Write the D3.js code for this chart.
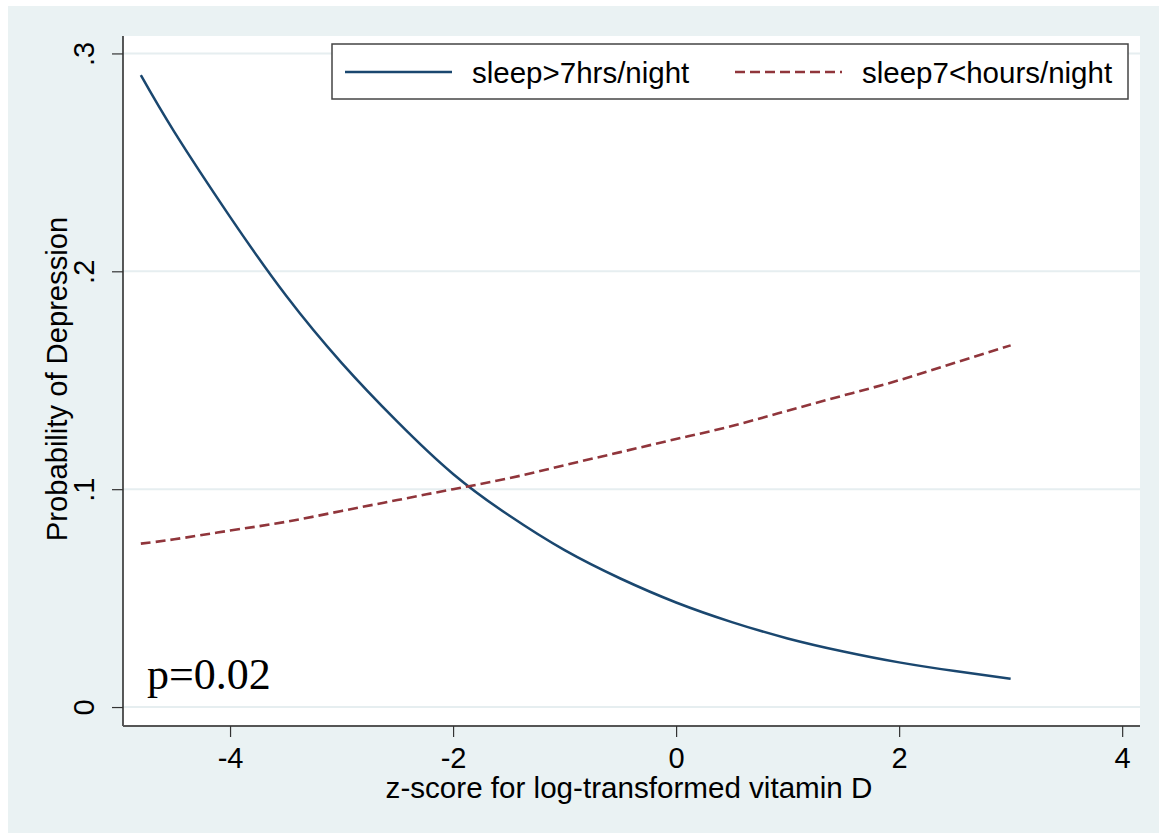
<!DOCTYPE html>
<html>
<head>
<meta charset="utf-8">
<script src="https://cdn.jsdelivr.net/npm/d3@7"></script>
<style>
  body { margin: 0; background: #fff; }
  svg { display: block; }
</style>
</head>
<body>
<div id="wrapper"></div>
<script>
// z-score values where the fitted curves were read
const zScores = [-4.8, -4.5, -4, -3.5, -3, -2.5, -2, -1.5, -1, -0.5, 0, 0.5, 1, 1.5, 2, 2.5, 3]
// sleep>7hrs/night (solid)
const sleepMore = [0.290, 0.264, 0.225, 0.189, 0.158, 0.131, 0.107, 0.088, 0.072, 0.059, 0.048, 0.039, 0.0315, 0.0255, 0.0205, 0.0165, 0.013]
// sleep7<hours/night (dashed)
const sleepLess = [0.075, 0.077, 0.081, 0.085, 0.090, 0.095, 0.100, 0.105, 0.111, 0.117, 0.123, 0.129, 0.136, 0.143, 0.150, 0.158, 0.166]

const xTicks = [-4, -2, 0, 2, 4]
const yTicks = [0, 0.1, 0.2, 0.3]
const yTickLabels = ['0', '.1', '.2', '.3']
const seriesNames = ['sleep>7hrs/night', 'sleep7<hours/night']

const width = 1159
const height = 833
const plot = { left: 123, right: 1140, top: 36, bottom: 726 }

const svg = d3.select('#wrapper').append('svg')
    .attr('width', width)
    .attr('height', height)

// outer graph region
svg.append('rect')
    .attr('x', 8).attr('y', 6)
    .attr('width', width - 8).attr('height', height - 6)
    .attr('fill', '#eaf2f3')

// plot region
svg.append('rect')
    .attr('x', plot.left).attr('y', plot.top)
    .attr('width', plot.right - plot.left).attr('height', plot.bottom - plot.top)
    .attr('fill', '#ffffff')

const xScale = d3.scaleLinear()
    .domain([-4.96, 4.16])
    .range([plot.left, plot.right])

const yScale = d3.scaleLinear()
    .domain([-0.0087, 0.3080])
    .range([plot.bottom, plot.top])

// gridlines
svg.append('g')
    .selectAll('line')
    .data(yTicks)
    .join('line')
    .attr('x1', plot.left).attr('x2', plot.right)
    .attr('y1', d => yScale(d)).attr('y2', d => yScale(d))
    .attr('stroke', '#e6eef0')
    .attr('stroke-width', 2)

const font = '"Liberation Sans", Arial, sans-serif'

// y axis
const yAxis = svg.append('g')
    .attr('transform', `translate(${plot.left},0)`)
    .call(d3.axisLeft(yScale).tickValues(yTicks).tickSize(11).tickFormat((d, i) => yTickLabels[i]))
yAxis.select('.domain')
    .attr('d', `M0,${plot.top}V${plot.bottom}`)
    .attr('stroke', '#222').attr('stroke-width', 1.5)
yAxis.selectAll('.tick line').attr('stroke', '#333').attr('stroke-width', 1.2)
yAxis.selectAll('.tick text')
    .attr('x', null).attr('dy', null)
    .attr('transform', 'translate(-29,0) rotate(-90)')
    .attr('text-anchor', 'middle')
    .style('font-family', font)
    .style('font-size', '29px')
    .attr('fill', '#000')

// x axis
const xAxis = svg.append('g')
    .attr('transform', `translate(0,${plot.bottom})`)
    .call(d3.axisBottom(xScale).tickValues(xTicks).tickSize(11).tickFormat(d3.format('d')))
xAxis.select('.domain')
    .attr('d', `M${plot.left},0H${plot.right}`)
    .attr('stroke', '#555').attr('stroke-width', 2)
xAxis.selectAll('.tick line').attr('stroke', '#333').attr('stroke-width', 1.2)
xAxis.selectAll('.tick text')
    .attr('y', 42).attr('dy', null)
    .style('font-family', font)
    .style('font-size', '29px')
    .attr('fill', '#000')
    .text(d => d < 0 ? '-' + Math.abs(d) : d)

// axis titles
svg.append('text')
    .attr('x', 629)
    .attr('y', 798)
    .attr('text-anchor', 'middle')
    .style('font-family', font)
    .style('font-size', '29.6px')
    .text('z-score for log-transformed vitamin D')

svg.append('text')
    .attr('transform', 'translate(67,379) rotate(-90)')
    .attr('text-anchor', 'middle')
    .style('font-family', font)
    .style('font-size', '29.2px')
    .text('Probability of Depression')

// lines
const lineGen = (values) => d3.line()
    .x((d, i) => xScale(zScores[i]))
    .y(d => yScale(d))
    .curve(d3.curveNatural)(values)

svg.append('path')
    .attr('d', lineGen(sleepMore))
    .attr('fill', 'none')
    .attr('stroke', '#1a476f')
    .attr('stroke-width', 2.5)

svg.append('path')
    .attr('d', lineGen(sleepLess))
    .attr('fill', 'none')
    .attr('stroke', '#90353b')
    .attr('stroke-width', 2.6)
    .attr('stroke-dasharray', '10,5')

// legend
const legend = svg.append('g')
legend.append('rect')
    .attr('x', 332).attr('y', 44)
    .attr('width', 796).attr('height', 55)
    .attr('fill', '#fff')
    .attr('stroke', '#444').attr('stroke-width', 1.5)

const legendItems = [
    { name: seriesNames[0], color: '#1a476f', dash: null, x: 345 },
    { name: seriesNames[1], color: '#90353b', dash: '10,5', x: 735 }
]
legendItems.forEach(item => {
    legend.append('line')
        .attr('x1', item.x).attr('x2', item.x + 107)
        .attr('y1', 72).attr('y2', 72)
        .attr('stroke', item.color)
        .attr('stroke-width', 2.5)
        .attr('stroke-dasharray', item.dash)
    legend.append('text')
        .attr('x', item.x + 127).attr('y', 83)
        .style('font-family', font)
        .style('font-size', '29.5px')
        .text(item.name)
})

// annotation
svg.append('text')
    .attr('x', 147).attr('y', 689)
    .style('font-family', '"Liberation Serif", "Times New Roman", serif')
    .style('font-size', '44px')
    .text('p=0.02')
</script>
</body>
</html>
